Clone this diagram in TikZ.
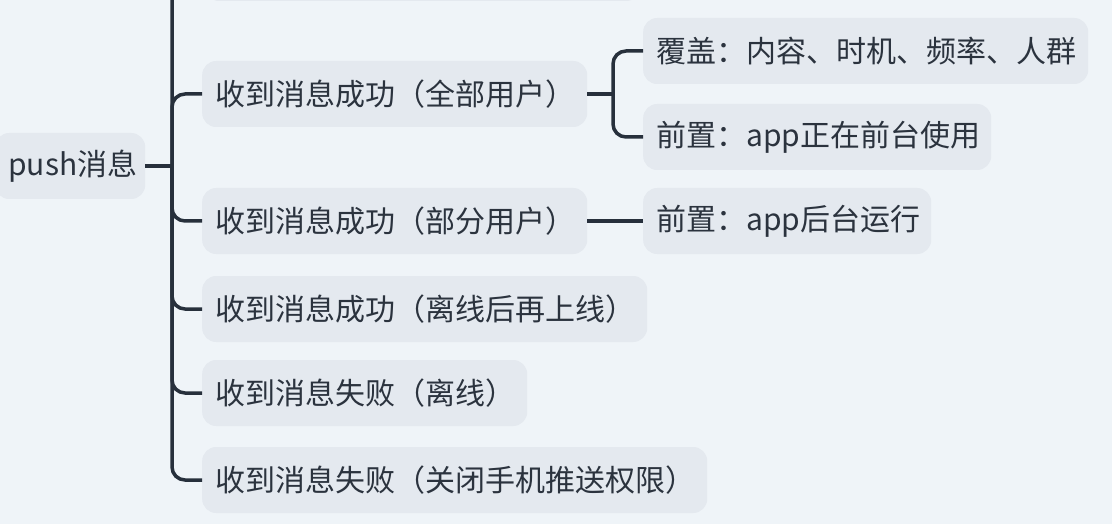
\documentclass[tikz,border=0pt]{standalone}
\usepackage{fontspec}
\setmainfont{Noto Sans CJK SC}
\definecolor{bgc}{HTML}{EFF4F8}
\definecolor{boxc}{HTML}{E4E9EF}
\definecolor{linec}{HTML}{27303C}
\definecolor{txtc}{HTML}{2B333E}
\tikzset{
  mbox/.style={fill=boxc, rounded corners=14pt, minimum height=66pt, inner xsep=13pt, inner ysep=0pt,
    anchor=west, align=left, text=txtc, font=\fontsize{30}{36}\selectfont, text width=#1},
  conn/.style={draw=linec, line width=3.5pt, rounded corners=13pt},
}
\begin{document}
\begin{tikzpicture}[x=1pt, y=-1pt]
\useasboundingbox (0,0) rectangle (1112,524);
\clip (0,0) rectangle (1112,524);
\fill[bgc] (0,0) rectangle (1112,524);
% nodes
\node[mbox=124pt] (root) at (-5,166) {push消息};
\node[mbox=409pt, minimum height=70pt] (top) at (205,-34) {};
\node[mbox=359pt] (b1) at (202,94) {收到消息成功（全部用户）};
\node[mbox=359pt] (b2) at (202,221) {收到消息成功（部分用户）};
\node[mbox=419pt] (b3) at (202,309) {收到消息成功（离线后再上线）};
\node[mbox=299pt] (b4) at (202,393) {收到消息失败（离线）};
\node[mbox=479pt] (b5) at (202,480) {收到消息失败（关闭手机推送权限）};
\node[mbox=419pt] (c11) at (643,51) {覆盖：内容、时机、频率、人群};
\node[mbox=322pt] (c12) at (643,137) {前置：app正在前台使用};
\node[mbox=262pt] (c21) at (643,221) {前置：app后台运行};
% connectors
\coordinate (j) at (172,166);
\coordinate (k) at (613,94);
\draw[conn] (root.east) -- (j);
\draw[conn] (j) |- (top.west);
\draw[conn] (j) |- (b1.west);
\draw[conn] (j) |- (b2.west);
\draw[conn] (j) |- (b3.west);
\draw[conn] (j) |- (b4.west);
\draw[conn] (j) |- (b5.west);
\draw[conn] (b1.east) -- (k);
\draw[conn] (k) |- (c11.west);
\draw[conn] (k) |- (c12.west);
\draw[conn] (b2.east) -- (c21.west);
\end{tikzpicture}
\end{document}
